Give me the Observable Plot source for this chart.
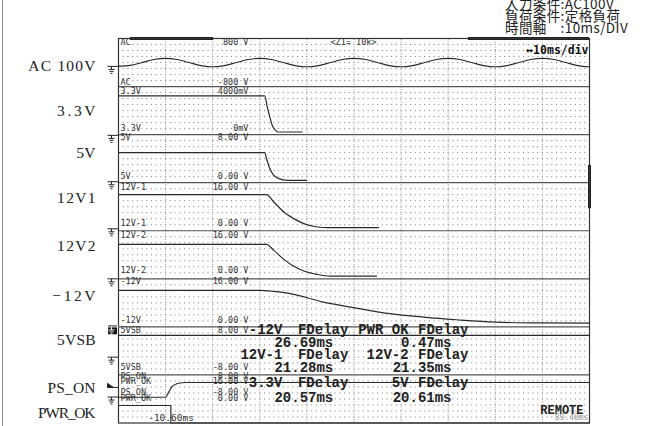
<!DOCTYPE html>
<html><head><meta charset="utf-8">
<script src="https://cdn.jsdelivr.net/npm/d3@7"></script>
<script src="https://cdn.jsdelivr.net/npm/@observablehq/plot@0.6"></script>
<style>
body{margin:0;background:#fff;}
#wrap{position:relative;width:646px;height:426px;overflow:hidden;}
#edge{position:absolute;left:2px;top:0;width:1px;height:426px;background:#888;}
#note{position:absolute;left:505px;top:-3px;font-family:"Noto Sans CJK JP";font-size:13.5px;letter-spacing:0.4px;line-height:12px;color:#222;white-space:pre;}
#chart{position:absolute;left:0;top:0;}
</style></head><body>
<div id="wrap"><div id="chart"></div><div id="edge"></div>
<div id="note">入力条件:AC100V
負荷条件:定格負荷
時間軸　:10ms/DIV</div></div>
<script>
// ---- data (time in ms, values in volts) ----
const acTime  = [0,2.5,5,7.5,10,12.5,15,17.5,20,22.5,25,27.5,30,32.5,35,37.5,40,42.5,45,47.5,50,52.5,55,57.5,60,62.5,65,67.5,70,72.5,75,77.5,80,82.5,85,87.5,90,92.5,95,97.5,100];
const acVolts = [-120,-95,0,100,140,100,0,-100,-140,-100,0,100,140,100,0,-100,-140,-100,0,100,140,100,0,-100,-140,-100,0,100,140,100,0,-100,-140,-100,0,100,140,100,0,-100,-140];
const rail33  = [[0,3.22],[31.06,3.22],[31.57,2.31],[32.12,1.47],[32.63,0.78],[33.33,0.36],[33.76,0.22],[39.0,0.22]];
const rail5   = [[0,5.02],[31.06,5.02],[31.42,4.02],[32.12,2.35],[32.84,1.35],[34.03,0.68],[35.88,0.40],[39.92,0.40]];
const rail12a = [[0,12.03],[31.42,12.03],[32.97,9.57],[35.10,6.24],[37.22,4.04],[39.34,2.37],[42.19,1.24],[44.5,1.04],[55.2,1.04]];
const rail12b = [[0,11.47],[31.42,11.47],[32.97,9.48],[35.10,6.48],[37.22,4.15],[39.34,2.58],[42.19,1.47],[45.0,0.91],[54.8,0.91]];
const railM12 = [[0,12.15],[30,12.15],[33,11.8],[36.5,11.05],[43.5,8.25],[50.5,6.25],[57.7,4.39],[64.8,3.25],[71.8,2.38],[80,1.59],[90,1.3],[100,1.26]];
const rail5sb = [[0,5.16],[100,5.16]];
const psOn    = [[0,0.58],[9.98,0.58],[10.66,2.26],[11.4,4.16],[12.4,5.06],[14.5,5.49],[100,5.49]];
const pwrOk   = [[0,5.83],[11.12,5.83],[11.12,0],[100,0]];

const leftNames   = ["AC 100V","3.3V","5V","12V1","12V2","−12V","5VSB","PS_ON","PWR_OK"];
const headNames   = ["AC","AC","3.3V","3.3V","5V","5V","12V-1","12V-1","12V-2","12V-2","-12V","-12V","5VSB","5VSB","PS_ON","PWR_OK","PS_ON","PWR_OK"];
const headValues  = ["800 V","-800 V","4000mV","0mV","8.00 V","0.00 V","16.00 V","0.00 V","16.00 V","0.00 V","16.00 V","0.00 V","8.00 V","-8.00 V","8.00 V","16.00 V","-8.00 V","0.00 V"];
const measLabelsA = ["-12V","12V-1","3.3V"];
const measValuesA = ["26.69ms","21.28ms","20.57ms"];
const measLabelsB = ["PWR_OK","12V-2","5V"];
const measValuesB = ["0.47ms","21.35ms","20.61ms"];

// ---- channel scaling: screen divisions (0 bottom .. 8 top) ----
const channels = [
  {name:"AC",    pts: acTime.map((t,i)=>[t,acVolts[i]]), zero:7.5, perDiv:1600, curve:"catmull-rom"},
  {name:"3.3V",  pts: rail33,  zero:6,   perDiv:4,  curve:"monotone-x"},
  {name:"5V",    pts: rail5,   zero:5,   perDiv:8,  curve:"monotone-x"},
  {name:"12V-1", pts: rail12a, zero:4,   perDiv:16, curve:"monotone-x"},
  {name:"12V-2", pts: rail12b, zero:3,   perDiv:16, curve:"monotone-x"},
  {name:"-12V",  pts: railM12, zero:2,   perDiv:16, curve:"monotone-x"},
  {name:"5VSB",  pts: rail5sb, zero:1.5, perDiv:16, curve:"linear"},
  {name:"PS_ON", pts: psOn,    zero:0.5, perDiv:16, curve:"monotone-x"},
  {name:"PWR_OK",pts: pwrOk,   zero:0,   perDiv:16, curve:"linear"}
];

// ---- layout (screen divisions) ----
const layout = {
  leftLevels:  [7.424,6.487,5.612,4.675,3.676,2.634,1.718,0.718,0.198],
  groundLevels:[7.42,5.985,5.02,4.04,3.0,1.37,0.54],
  boxLevel: 2.0,
  arrowLevel: 0.74,
  headLevels:  [7.92,7.09,6.903,6.133,5.945,5.133,4.904,4.155,3.905,3.176,2.947,2.135,1.926,1.155,0.968,0.864,0.635,0.510],
  measLabelRows:[1.947,1.426,0.849],
  measValueRows:[1.682,1.149,0.537]
};

// custom marker symbols
const groundSym = {draw(ctx){
  ctx.moveTo(-5,0); ctx.lineTo(6,0);
  ctx.moveTo(-1,0); ctx.lineTo(-1,3);
  ctx.moveTo(-4,3); ctx.lineTo(2,3);
  ctx.moveTo(-3,5); ctx.lineTo(1,5);
  ctx.moveTo(-2,7); ctx.lineTo(0,7);
}};
const arrowSym = {draw(ctx){
  ctx.moveTo(-5,-4); ctx.lineTo(1,0); ctx.lineTo(-5,0); ctx.closePath();
  ctx.moveTo(-5,0); ctx.lineTo(6,0);
}};

const marks = [];
// dotted sub-grid rows
const subRows = d3.range(1,64).filter(k=>k%8!==0).map(k=>k/8);
marks.push(Plot.ruleY(subRows,{x1:0,x2:100,stroke:"#7a7a7a",strokeDasharray:"1 3.71",strokeWidth:1}));
marks.push(Plot.ruleX(d3.range(10,100,10),{y1:0,y2:8,stroke:"#9a9a9a",strokeDasharray:"1 1.5",strokeWidth:1}));
// panel separators
marks.push(Plot.ruleY(d3.range(1,8),{x1:0,x2:100,stroke:"#555",strokeWidth:1.2}));

// header labels inside the screen
const heads = headNames.map((n,i)=>({n,v:headValues[i],lv:layout.headLevels[i]}));
const monoSmall = {fontFamily:"DejaVu Sans Mono",fontSize:8.5,fill:"#333"};
marks.push(Plot.text(heads,{frameAnchor:"left",y:"lv",text:"n",textAnchor:"start",dx:2,...monoSmall}));
marks.push(Plot.text(heads,{x:()=>27.6,y:"lv",text:"v",textAnchor:"end",...monoSmall}));
marks.push(Plot.text(["<Z1= 10k>"],{x:()=>45,y:()=>7.92,text:d=>d,textAnchor:"start",...monoSmall}));

// traces
for (const c of channels) {
  marks.push(Plot.line(c.pts,{x:d=>d[0],y:d=>c.zero+d[1]/c.perDiv,stroke:"#2a2a2a",strokeWidth:1.2,curve:c.curve}));
}

// measurement readouts
const measFont = {fontFamily:"Liberation Mono",fontWeight:"bold",fontSize:14,fill:"#222",letterSpacing:"1.3px"};
marks.push(Plot.text(measLabelsA,{x:()=>34.8,y:(d,i)=>layout.measLabelRows[i],text:d=>d,textAnchor:"end",...measFont}));
marks.push(Plot.text(measLabelsA,{x:()=>48.8,y:(d,i)=>layout.measLabelRows[i],text:()=>"FDelay",textAnchor:"end",...measFont}));
marks.push(Plot.text(measValuesA,{x:()=>45.6,y:(d,i)=>layout.measValueRows[i],text:d=>d,textAnchor:"end",...measFont}));
marks.push(Plot.text(measLabelsB,{x:()=>61.6,y:(d,i)=>layout.measLabelRows[i],text:d=>d,textAnchor:"end",...measFont}));
marks.push(Plot.text(measLabelsB,{x:()=>74.3,y:(d,i)=>layout.measLabelRows[i],text:()=>"FDelay",textAnchor:"end",...measFont}));
marks.push(Plot.text(measValuesB,{x:()=>70.7,y:(d,i)=>layout.measValueRows[i],text:d=>d,textAnchor:"end",...measFont}));

// misc screen texts
marks.push(Plot.text(["↔10ms/div"],{frameAnchor:"top-right",dx:-1,dy:7,text:d=>d,fontFamily:"DejaVu Sans Mono",fontWeight:"bold",fontSize:11.5,fill:"#111"}));
marks.push(Plot.text(["-10.60ms"],{x:()=>6.3,y:()=>0.11,text:d=>d,textAnchor:"start",fontFamily:"DejaVu Sans Mono",fontSize:9.5,fill:"#333"}));
marks.push(Plot.text(["89.40ms"],{frameAnchor:"bottom-right",dx:-1,dy:-3,text:d=>d,fontFamily:"DejaVu Sans Mono",fontSize:8,fill:"#999"}));
marks.push(Plot.text(["REMOTE"],{frameAnchor:"bottom-right",dx:-6,dy:-9,text:d=>d,fontFamily:"Liberation Mono",fontWeight:"bold",fontSize:12,fill:"#222"}));

// scroll indicators
marks.push(Plot.ruleY([8],{x1:2.5,x2:20.2,stroke:"#222",strokeWidth:3}));
marks.push(Plot.ruleY([8],{x1:74.3,x2:100,stroke:"#222",strokeWidth:3}));
marks.push(Plot.ruleX([100],{y1:4.46,y2:5.36,stroke:"#222",strokeWidth:3}));

marks.push(Plot.frame({stroke:"#333",strokeWidth:1.2}));

// ground markers and channel names outside the screen
marks.push(Plot.dot(layout.groundLevels,{frameAnchor:"left",y:d=>d,dx:-6,symbol:groundSym,stroke:"#222",strokeWidth:1,fill:"none"}));
marks.push(Plot.dot([layout.boxLevel],{frameAnchor:"left",y:d=>d,dx:-6,dy:3,symbol:"square",r:5,fill:"#111",stroke:"none"}));
marks.push(Plot.dot([layout.boxLevel],{frameAnchor:"left",y:d=>d,dx:-6,symbol:groundSym,stroke:"#fff",strokeWidth:1,fill:"none"}));
marks.push(Plot.dot([layout.arrowLevel],{frameAnchor:"left",y:d=>d,dx:-6,symbol:arrowSym,stroke:"#222",fill:"#222",strokeWidth:1}));
marks.push(Plot.text(leftNames,{className:"leftnames",frameAnchor:"left",y:(d,i)=>layout.leftLevels[i],text:d=>d,textAnchor:"end",dx:-23,fontFamily:"Liberation Serif",fontSize:15.5,fill:"#222"}));

const chart = Plot.plot({
  width:646, height:426,
  marginLeft:118, marginRight:57, marginTop:38, marginBottom:3.5,
  x:{domain:[0,100],axis:null},
  y:{domain:[0,8],axis:null},
  style:{background:"transparent",overflow:"visible"},
  marks
});
// half-width Mincho-like spacing for the channel names
d3.select(chart).selectAll(".leftnames text").each(function(){
  const s = this.textContent;
  const cells = [...s].reduce((a,ch)=>a+(ch==="−"?1.5:1),0);
  this.setAttribute("textLength", (cells*9.6).toFixed(1));
  this.setAttribute("lengthAdjust","spacing");
});
document.getElementById("chart").appendChild(chart);
</script>
</body></html>
